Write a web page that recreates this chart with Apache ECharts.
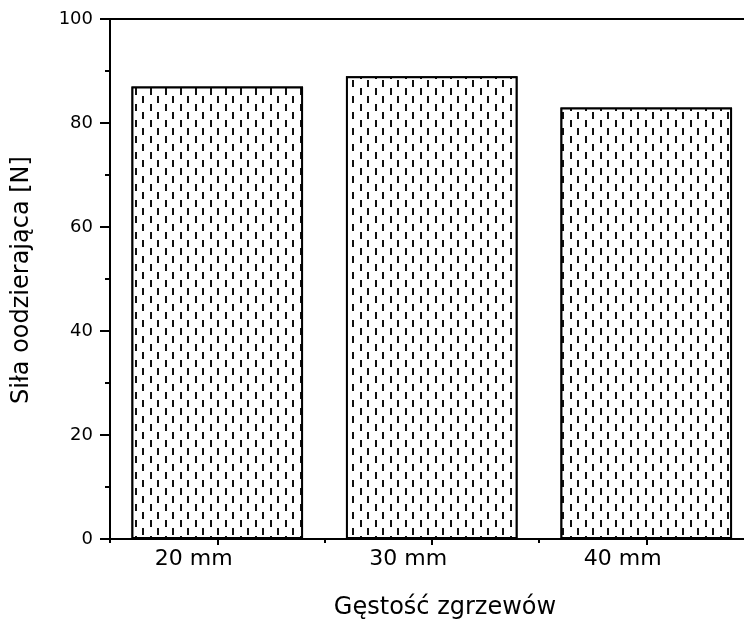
<!DOCTYPE html>
<html>
<head>
<meta charset="utf-8">
<script src="https://cdn.jsdelivr.net/npm/echarts@6/dist/echarts.min.js"></script>
<style>html,body{margin:0;padding:0;background:#fff;}#c{width:744px;height:628px;}</style>
</head>
<body>
<div id="c"></div>
<script>
var categories = ['20 mm', '30 mm', '40 mm'];
var values = [87, 89, 83];
var yTicks = [0, 20, 40, 60, 80, 100];
var xTitle = 'Gęstość zgrzewów';
var yTitle = 'Siła oodzierająca [N]';

var FONT = 'DejaVu Sans';
var chart = echarts.init(document.getElementById('c'), null, {renderer: 'canvas'});
var axisLine = {show: true, lineStyle: {color: '#000', width: 2}};
chart.setOption({
  animation: false,
  backgroundColor: '#fff',
  grid: {left: 110, top: 19, bottom: 89, width: 643.5, containLabel: false, outerBoundsMode: 'none'},
  xAxis: [
    {type: 'category', data: categories, position: 'bottom',
     axisLine: axisLine,
     axisTick: {show: true, alignWithLabel: true, length: 6, inside: false, lineStyle: {color: '#000', width: 2}},
     axisLabel: {show: true, color: '#000', fontFamily: FONT, fontSize: 22, margin: 9, padding: [0, 47, 0, 0]},
     splitLine: {show: false}},
    {type: 'category', data: categories, position: 'bottom',
     axisLine: {show: false},
     axisTick: {show: true, length: 4, inside: false, lineStyle: {color: '#000', width: 2}},
     axisLabel: {show: false}, splitLine: {show: false}},
    {type: 'category', data: categories, position: 'top',
     axisLine: axisLine, axisTick: {show: false}, axisLabel: {show: false}, splitLine: {show: false}}
  ],
  yAxis: {
    type: 'value', min: yTicks[0], max: yTicks[yTicks.length - 1], interval: 20,
    axisLine: axisLine,
    axisTick: {show: true, length: 10, inside: false, lineStyle: {color: '#000', width: 2}},
    minorTick: {show: true, splitNumber: 2, length: 5, lineStyle: {color: '#000', width: 2}},
    axisLabel: {color: '#000', fontFamily: FONT, fontSize: 18, margin: 17},
    splitLine: {show: false}
  },
  series: [{
    type: 'bar', data: values, barWidth: '80%', xAxisIndex: 0,
    itemStyle: {
      color: '#fff', borderColor: '#000', borderWidth: 2,
      decal: {
        symbol: 'rect', symbolSize: 1, symbolKeepAspect: false,
        color: '#111', backgroundColor: '#fff',
        dashArrayX: [[2, 13], [0, 7, 2, 6]],
        dashArrayY: [7, 1],
        rotation: 0
      }
    }
  }],
  graphic: [
    {type: 'text', x: 445, y: 608, style: {text: xTitle, font: '24px "DejaVu Sans"', fill: '#000', textAlign: 'center', textVerticalAlign: 'middle'}},
    {type: 'text', x: 22, y: 280, rotation: Math.PI / 2, style: {text: yTitle, font: '24px "DejaVu Sans"', fill: '#000', textAlign: 'center', textVerticalAlign: 'middle'}}
  ]
});
</script>
</body>
</html>
